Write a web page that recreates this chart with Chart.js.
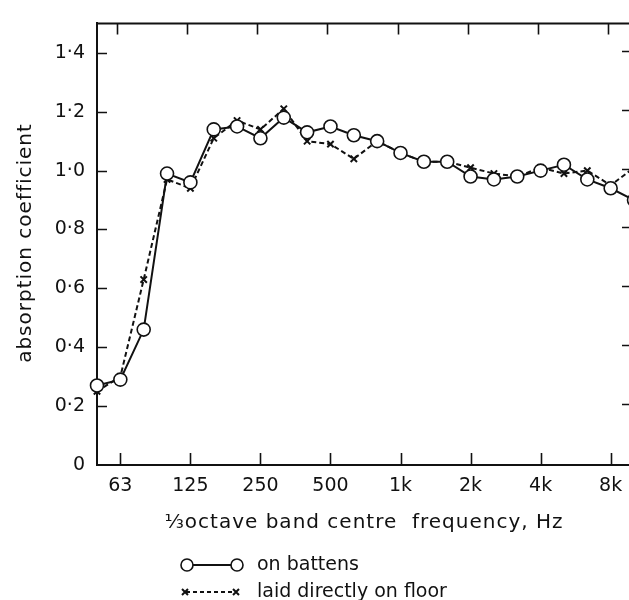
<!DOCTYPE html>
<html>
<head>
<meta charset="utf-8">
<script src="https://cdn.jsdelivr.net/npm/chart.js@4"></script>
<style>
  html, body { margin: 0; padding: 0; background: #fff; overflow: hidden; width: 629px; height: 600px; }
  #wrap { position: relative; width: 660px; height: 600px; }
</style>
</head>
<body>
<div id="wrap"><canvas id="c" width="660" height="600"></canvas></div>
<script>
// One-third octave band centre frequencies, Hz
const bands = ['50','63','80','100','125','160','200','250','315','400','500','630','800',
               '1k','1.25k','1.6k','2k','2.5k','3.15k','4k','5k','6.3k','8k','10k'];
// Absorption coefficient, mounted on battens
const onBattens = [0.27,0.29,0.46,0.99,0.96,1.14,1.15,1.11,1.18,1.13,1.15,1.12,1.10,
                   1.06,1.03,1.03,0.98,0.97,0.98,1.00,1.02,0.97,0.94,0.90];
// Absorption coefficient, laid directly on the floor
const onFloor   = [0.25,0.30,0.63,0.97,0.94,1.11,1.17,1.14,1.21,1.10,1.09,1.04,1.10,
                   1.06,1.03,1.03,1.01,0.99,0.98,1.01,0.99,1.00,0.95,1.01];
// Octave bands that carry a label on the frequency axis
const xTickBands = ['63','125','250','500','1k','2k','4k','8k'];
const yTicks = [0, 0.2, 0.4, 0.6, 0.8, 1.0, 1.2, 1.4];
const yTickLabels = ['0','0·2','0·4','0·6','0·8','1·0','1·2','1·4'];

const legendItems = ['on battens', 'laid directly on floor'];
const xTitle = '⅓octave band centre  frequency, Hz';
const yTitle = 'absorption coefficient';

const INK = '#111';
const FONT = '"DejaVu Sans", sans-serif';

function drawMarker(ctx, style, x, y, r) {
  ctx.save();
  ctx.setLineDash([]);
  ctx.strokeStyle = INK;
  if (style === 'circle') {
    ctx.lineWidth = 1.6;
    ctx.fillStyle = '#fff';
    ctx.beginPath(); ctx.arc(x, y, r, 0, Math.PI * 2); ctx.fill(); ctx.stroke();
  } else {
    ctx.lineWidth = 2;
    ctx.beginPath();
    ctx.moveTo(x - r, y - r); ctx.lineTo(x + r, y + r);
    ctx.moveTo(x - r, y + r); ctx.lineTo(x + r, y - r);
    ctx.stroke();
  }
  ctx.restore();
}

const framePlugin = {
  id: 'frame',
  beforeDatasetsDraw(chart) {
    const {ctx, chartArea: a, scales: {x, y}} = chart;
    ctx.save();
    ctx.strokeStyle = INK;
    ctx.lineWidth = 2;
    // top and right edges of the frame
    ctx.beginPath();
    ctx.moveTo(a.left, a.top); ctx.lineTo(a.right, a.top); ctx.lineTo(a.right, a.bottom);
    ctx.stroke();
    // inward tick marks
    ctx.lineWidth = 1.6;
    ctx.beginPath();
    x.ticks.forEach(t => {
      const px = Math.round(x.getPixelForValue(t.value)) + 0.5;
      ctx.moveTo(px, a.bottom); ctx.lineTo(px, a.bottom - 12);
      ctx.moveTo(px - 3, a.top); ctx.lineTo(px - 3, a.top + 11);
    });
    y.ticks.forEach(t => {
      if (t.value === 0) return;
      const py = Math.round(y.getPixelForValue(t.value)) + 0.5;
      ctx.moveTo(a.left, py); ctx.lineTo(a.left + 10, py);
      ctx.moveTo(a.right, py - 2); ctx.lineTo(a.right - 12, py - 2);
    });
    ctx.stroke();
    ctx.restore();
  },
  afterDraw(chart) {
    const {ctx} = chart;
    ctx.save();
    ctx.fillStyle = INK;
    // axis titles
    ctx.font = '20px ' + FONT;
    ctx.letterSpacing = '1px';
    ctx.textAlign = 'center';
    ctx.textBaseline = 'alphabetic';
    ctx.fillText(xTitle, 364, 528);
    ctx.save();
    ctx.translate(31, 243);
    ctx.rotate(-Math.PI / 2);
    ctx.fillText(yTitle, 0, 0);
    ctx.restore();

    // key
    ctx.letterSpacing = '0px';
    ctx.strokeStyle = INK;
    ctx.lineWidth = 2;
    ctx.setLineDash([]);
    ctx.beginPath(); ctx.moveTo(187, 565); ctx.lineTo(237, 565); ctx.stroke();
    drawMarker(ctx, 'circle', 187, 565, 6);
    drawMarker(ctx, 'circle', 237, 565, 6);
    ctx.setLineDash([4, 3]);
    ctx.beginPath(); ctx.moveTo(186, 592); ctx.lineTo(235, 592); ctx.stroke();
    ctx.setLineDash([]);
    drawMarker(ctx, 'cross', 185, 592, 3);
    drawMarker(ctx, 'cross', 236, 592, 3);
    ctx.font = '19px ' + FONT;
    ctx.textAlign = 'left';
    ctx.textBaseline = 'middle';
    ctx.fillText(legendItems[0], 257, 565);
    ctx.fillText(legendItems[1], 257, 592);
    ctx.restore();
  }
};

new Chart(document.getElementById('c'), {
  type: 'line',
  data: {
    datasets: [
      {
        label: legendItems[0],
        data: bands.map((b, i) => ({x: i, y: onBattens[i]})),
        borderColor: INK,
        borderWidth: 2,
        tension: 0,
        pointStyle: 'circle',
        pointRadius: 6.5,
        pointBorderWidth: 1.6,
        pointBackgroundColor: '#fff',
        pointBorderColor: INK,
        clip: false
      },
      {
        label: legendItems[1],
        data: bands.map((b, i) => ({x: i, y: onFloor[i]})),
        borderColor: INK,
        borderWidth: 2,
        borderDash: [5, 3],
        tension: 0,
        pointStyle: 'crossRot',
        pointRadius: 4.5,
        pointBorderWidth: 2,
        pointBorderColor: INK,
        clip: false
      }
    ]
  },
  options: {
    responsive: false,
    animation: false,
    devicePixelRatio: 1,
    layout: {padding: {left: 0, top: 14, right: 26, bottom: 0}},
    plugins: {legend: {display: false}, tooltip: {enabled: false}},
    scales: {
      x: {
        type: 'linear',
        min: 0,
        max: bands.length - 1,
        grid: {display: false, drawTicks: false},
        border: {display: true, color: INK, width: 2},
        afterBuildTicks: s => { s.ticks = xTickBands.map(b => ({value: bands.indexOf(b)})); },
        afterFit: s => { s.height = 135; },
        ticks: {
          autoSkip: false, maxRotation: 0, padding: 10, color: INK,
          font: {family: FONT, size: 19},
          callback: v => bands[v]
        }
      },
      y: {
        type: 'linear',
        min: 0,
        max: 1.5,
        grid: {display: false, drawTicks: false},
        border: {display: true, color: INK, width: 2},
        afterBuildTicks: s => { s.ticks = yTicks.map(v => ({value: v})); },
        afterFit: s => { s.width = 97; },
        ticks: {
          padding: 12, color: INK,
          font: {family: FONT, size: 19},
          callback: v => yTickLabels[yTicks.findIndex(t => Math.abs(t - v) < 1e-9)]
        }
      }
    }
  },
  plugins: [framePlugin]
});
</script>
</body>
</html>
